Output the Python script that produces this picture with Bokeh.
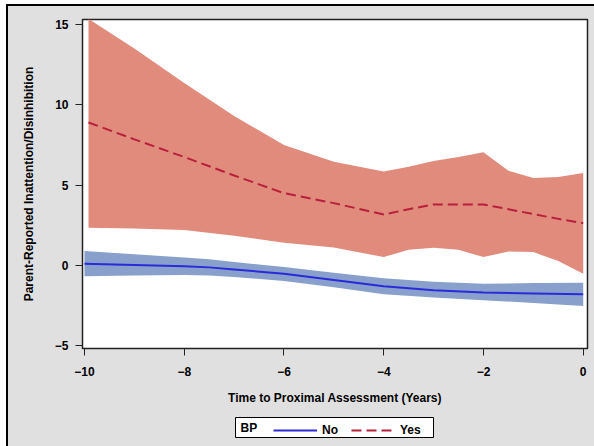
from bokeh.plotting import figure
from bokeh.layouts import column
from bokeh.models import Range1d, FixedTicker, Legend, LegendItem, Label
from bokeh.embed import file_html
from bokeh.resources import INLINE

# ---- data ----
yes_t     = [-9.92, -9, -8, -7, -6, -5, -4, -3.5, -3, -2.5, -2, -1.5, -1, -0.5, 0]
yes_upper = [15.35, 13.5, 11.35, 9.3, 7.5, 6.45, 5.85, 6.15, 6.5, 6.75, 7.05, 5.9, 5.45, 5.5, 5.75]
yes_mean  = [8.9, 7.85, 6.75, 5.6, 4.5, 3.88, 3.17, 3.5, 3.8, 3.8, 3.8, 3.5, 3.2, 2.9, 2.63]
yes_lower = [2.35, 2.3, 2.2, 1.85, 1.42, 1.12, 0.52, 0.97, 1.1, 0.97, 0.52, 0.87, 0.83, 0.27, -0.52]

no_t     = [-10.0, -9, -8, -7.5, -7, -6, -5, -4, -3, -2, -1, 0]
no_upper = [0.9, 0.7, 0.5, 0.38, 0.22, -0.1, -0.45, -0.8, -1.02, -1.14, -1.1, -1.08]
no_mean  = [0.1, 0.03, -0.05, -0.12, -0.25, -0.52, -0.9, -1.3, -1.55, -1.68, -1.74, -1.8]
no_lower = [-0.68, -0.63, -0.6, -0.62, -0.72, -0.97, -1.35, -1.8, -2.0, -2.17, -2.33, -2.53]

x_ticks = [-10, -8, -6, -4, -2, 0]
y_ticks = [-5, 0, 5, 10, 15]
x_title = "Time to Proximal Assessment (Years)"
y_title = "Parent-Reported Inattention/Disinhibition"
legend_title = "BP"
group_labels = ["No", "Yes"]

FONT = "Liberation Sans"
BG = "#e0e0e0"
NO_COLOR = "#2a2ad8"
YES_COLOR = "#b8203a"
YES_DASH = "10 5"

# ---- main plot ----
p = figure(width=586, height=408, output_backend="svg", toolbar_location=None,
           x_range=Range1d(-10.04, 0.086), y_range=Range1d(-5.17, 15.31),
           min_border_left=74, min_border_right=7, min_border_top=13, min_border_bottom=66,
           background_fill_color="white", border_fill_color=BG)
p.outline_line_color = "#222222"
p.outline_line_width = 1.5
p.grid.visible = False

p.varea(x=yes_t, y1=yes_lower, y2=yes_upper, fill_color="#e18b7d", fill_alpha=1.0)
p.varea(x=no_t, y1=no_lower, y2=no_upper, fill_color="#89a0cd", fill_alpha=1.0)
p.line(no_t, no_mean, line_color=NO_COLOR, line_width=2)
p.line(yes_t, yes_mean, line_color=YES_COLOR, line_width=2, line_dash=YES_DASH)

for ax in (p.xaxis[0], p.yaxis[0]):
    ax.axis_line_color = "#222222"
    ax.major_tick_line_color = "#222222"
    ax.major_tick_out = 7
    ax.major_tick_in = 0
    ax.minor_tick_line_color = None
    ax.major_label_text_font = FONT
    ax.major_label_text_font_style = "bold"
    ax.major_label_text_font_size = "12px"
    ax.major_label_text_color = "black"
    ax.axis_label_text_font = FONT
    ax.axis_label_text_font_style = "bold"
    ax.axis_label_text_font_size = "12px"
    ax.axis_label_text_color = "black"

p.xaxis[0].ticker = FixedTicker(ticks=x_ticks)
p.yaxis[0].ticker = FixedTicker(ticks=y_ticks)
p.xaxis[0].axis_label = x_title
p.yaxis[0].axis_label = y_title
p.xaxis[0].major_label_standoff = 11
p.xaxis[0].axis_label_standoff = 12
p.yaxis[0].major_label_standoff = 7
p.yaxis[0].axis_label_standoff = 16

# ---- legend strip (separate small figure so it is not clipped) ----
# its frame lines up with the main frame (page x 82..587); data units = page pixels
leg = figure(width=586, height=32, output_backend="svg", toolbar_location=None,
             x_range=Range1d(82, 587), y_range=Range1d(0, 32),
             x_axis_type=None, y_axis_type=None,
             min_border_left=74, min_border_right=7, min_border_top=0, min_border_bottom=0,
             background_fill_color=BG, border_fill_color=BG)
leg.background_fill_color = BG
leg.border_fill_color = BG
leg.outline_line_color = None
leg.grid.visible = False

leg.quad(left=[235], right=[433], bottom=[9], top=[29],
         fill_color="white", line_color="black", line_width=1)
leg.add_layout(Label(x=240, y=19, text=legend_title, text_font=FONT,
                     text_font_style="bold", text_font_size="12px",
                     text_baseline="middle", text_color="black"))
# legend samples use the series themselves (they fall outside this strip's ranges)
d_no = leg.line(no_t, no_mean, line_color=NO_COLOR, line_width=2)
d_yes = leg.line(yes_t, yes_mean, line_color=YES_COLOR, line_width=2, line_dash=YES_DASH)

legend = Legend(items=[LegendItem(label=group_labels[0], renderers=[d_no]),
                       LegendItem(label=group_labels[1], renderers=[d_yes])],
                orientation="horizontal", location=(191, 9))
legend.label_text_font = FONT
legend.label_text_font_style = "bold"
legend.label_text_font_size = "12px"
legend.label_text_color = "black"
legend.glyph_width = 44
legend.glyph_height = 14
legend.label_standoff = 5
legend.label_height = 14
legend.spacing = 9
legend.padding = 3
legend.margin = 0
legend.border_line_color = None
legend.background_fill_alpha = 0.0
leg.add_layout(legend, "center")

layout = column(p, leg, spacing=0)
layout.styles = {"margin-left": "6px", "margin-top": "4px",
                 "border-left": "2px solid #000", "border-top": "2px solid #000",
                 "background-color": BG}

open("out.html", "w").write(file_html(layout, INLINE))
